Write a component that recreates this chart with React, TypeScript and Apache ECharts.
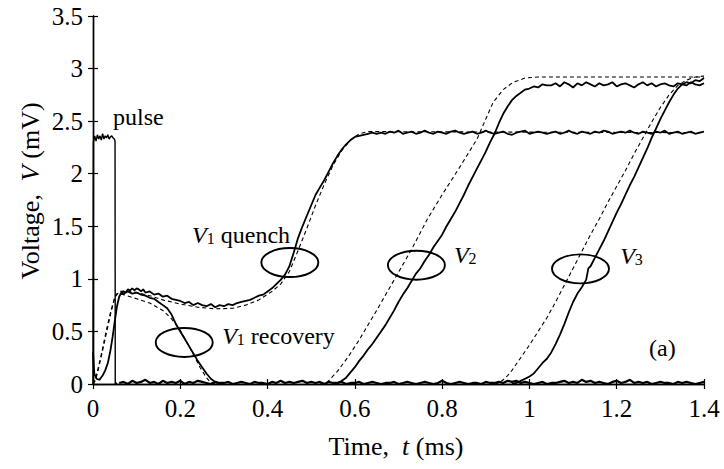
import React, { useEffect, useRef } from 'react';
import * as echarts from 'echarts';

const FONT = 'Liberation Serif';

// Axis ranges
const X_MIN = 0, X_MAX = 1.4, X_STEP = 0.2;
const Y_MIN = 0, Y_MAX = 3.5, Y_STEP = 0.5;

// pulse (time ms, voltage mV)
const pulse: [number, number][] = [
  [0, 0], [0.001, 2.3], [0.004, 2.36], [0.007, 2.31], [0.01, 2.37], [0.013, 2.33], [0.016, 2.36],
  [0.019, 2.32], [0.022, 2.38], [0.025, 2.33], [0.028, 2.36], [0.031, 2.34], [0.034, 2.37],
  [0.037, 2.33], [0.04, 2.35], [0.043, 2.36], [0.046, 2.34], [0.049, 2.33], [0.0505, 2.31],
  [0.051, 0.0], [0.055, 0.01],
];

// zero-level trace after the pulse, sampled every 0.01 ms from 0.06 ms
const baselineStart = 0.06;
const baselineStep = 0.01;
const baselineValues = [
  0.01, 0.02, 0.00, 0.03, 0.01, 0.02, 0.04, 0.01, 0.02, 0.00,
  0.03, 0.01, 0.02, 0.01, 0.03, 0.00, 0.02, 0.01, 0.03, 0.02,
  0.01, 0.00, 0.02, 0.01, 0.01, 0.02, 0.00, 0.01, 0.02, 0.01,
  0.00, 0.02, 0.01, 0.01, 0.00, 0.02, 0.01, 0.03, 0.01, 0.02,
  0.01, 0.02, 0.03, 0.01, 0.02, 0.01, 0.02, 0.00, 0.02, 0.01,
  0.01, 0.02, 0.00, 0.01, 0.01, 0.02, 0.00, 0.01, 0.02, 0.01,
  0.00, 0.01, 0.01, 0.02, 0.00, 0.01, 0.02, 0.01, 0.00, 0.01,
  0.02, 0.01, 0.00, 0.01, 0.03, 0.01, 0.00, 0.01, 0.02, 0.01,
  0.00, 0.01, 0.01, 0.00, 0.02, 0.01, 0.01, 0.02, 0.01, 0.03,
  0.02, 0.03, 0.01, 0.02, 0.01, 0.00, 0.01, 0.02, 0.00, 0.01,
  0.01, 0.02, 0.03, 0.01, 0.02, 0.01, 0.04, 0.02, 0.03, 0.01,
  0.02, 0.01, 0.00, 0.02, 0.03, 0.01, 0.02, 0.04, 0.01, 0.02,
  0.01, 0.02, 0.00, 0.01, 0.02, 0.01, 0.01, 0.00, 0.02, 0.01,
  0.02, 0.01, 0.00, 0.01, 0.02,
];

// V1 quench, measured (rise and dip)
const v1QuenchMeasured: [number, number][] = [
  [0, 0.3], [0.003, 0.1], [0.008, 0.05], [0.015, 0.04], [0.022, 0.08], [0.028, 0.13], [0.034, 0.2],
  [0.04, 0.32], [0.045, 0.45], [0.05, 0.6], [0.055, 0.74], [0.06, 0.83], [0.065, 0.87], [0.07, 0.88],
  [0.075, 0.87], [0.08, 0.9], [0.085, 0.89], [0.09, 0.91], [0.095, 0.89], [0.1, 0.91], [0.105, 0.9],
  [0.11, 0.88], [0.115, 0.9], [0.12, 0.87], [0.13, 0.88], [0.14, 0.85], [0.15, 0.86], [0.16, 0.83],
  [0.17, 0.84], [0.18, 0.81], [0.19, 0.8], [0.2, 0.79], [0.21, 0.77], [0.22, 0.78], [0.23, 0.75],
  [0.24, 0.77], [0.25, 0.75], [0.26, 0.74], [0.27, 0.76], [0.28, 0.73], [0.29, 0.75], [0.3, 0.74],
  [0.31, 0.76], [0.32, 0.75], [0.33, 0.77], [0.34, 0.78], [0.35, 0.79], [0.36, 0.8], [0.37, 0.82],
  [0.38, 0.84], [0.39, 0.85], [0.4, 0.88], [0.41, 0.91], [0.42, 0.95], [0.43, 0.99], [0.44, 1.04],
  [0.45, 1.12], [0.46, 1.25], [0.47, 1.39], [0.48, 1.5], [0.49, 1.6], [0.5, 1.7], [0.51, 1.8],
  [0.52, 1.87], [0.53, 1.94], [0.54, 2.02], [0.55, 2.1], [0.56, 2.17], [0.57, 2.23], [0.58, 2.28],
  [0.59, 2.32], [0.6, 2.35], [0.61, 2.36], [0.62, 2.37], [0.63, 2.38], [0.64, 2.39], [0.65, 2.38],
];
// V1 quench plateau, every 0.01 ms from 0.66 ms
const v1PlateauStart = 0.66;
const v1PlateauValues = [
  2.39, 2.38, 2.40, 2.39, 2.41, 2.38, 2.39, 2.40, 2.38, 2.39,
  2.41, 2.39, 2.38, 2.40, 2.39, 2.38, 2.40, 2.41, 2.39, 2.38,
  2.39, 2.40, 2.38, 2.39, 2.41, 2.39, 2.38, 2.39, 2.40, 2.38,
  2.37, 2.39, 2.40, 2.41, 2.38, 2.39, 2.40, 2.39, 2.38, 2.39,
  2.40, 2.38, 2.39, 2.41, 2.39, 2.38, 2.40, 2.39, 2.38, 2.40,
  2.39, 2.41, 2.40, 2.38, 2.39, 2.40, 2.39, 2.41, 2.39, 2.38,
  2.40, 2.39, 2.38, 2.40, 2.39, 2.41, 2.38, 2.39, 2.40, 2.38,
  2.39, 2.40, 2.38, 2.39, 2.40,
];
// V1 quench, model (dashed)
const v1QuenchModel: [number, number][] = [
  [0, 0], [0.005, 0.03], [0.01, 0.1], [0.02, 0.28], [0.03, 0.47], [0.04, 0.66], [0.05, 0.82],
  [0.06, 0.88], [0.08, 0.885], [0.1, 0.87], [0.13, 0.84], [0.16, 0.8], [0.2, 0.76], [0.24, 0.73],
  [0.28, 0.715], [0.32, 0.72], [0.35, 0.75], [0.38, 0.8], [0.41, 0.88], [0.43, 0.95], [0.45, 1.07],
  [0.47, 1.27], [0.49, 1.48], [0.51, 1.7], [0.53, 1.9], [0.55, 2.08], [0.57, 2.22], [0.59, 2.32],
  [0.61, 2.38], [0.63, 2.4], [0.66, 2.4], [1.4, 2.39],
];
// V1 recovery, measured
const v1RecoveryMeasured: [number, number][] = [
  [0.065, 0.87], [0.07, 0.86], [0.08, 0.88], [0.09, 0.86], [0.1, 0.87], [0.11, 0.85], [0.12, 0.84],
  [0.13, 0.82], [0.14, 0.81], [0.15, 0.78], [0.16, 0.75], [0.17, 0.72], [0.18, 0.66], [0.19, 0.57],
  [0.2, 0.5], [0.21, 0.43], [0.22, 0.36], [0.23, 0.29], [0.24, 0.22], [0.25, 0.16], [0.26, 0.1],
  [0.27, 0.05], [0.28, 0.02], [0.29, 0.0],
];
// V1 recovery, model (dashed)
const v1RecoveryModel: [number, number][] = [
  [0, 0], [0.005, 0.05], [0.01, 0.12], [0.02, 0.3], [0.03, 0.5], [0.04, 0.68], [0.05, 0.83],
  [0.055, 0.86], [0.07, 0.85], [0.1, 0.81], [0.13, 0.77], [0.16, 0.7], [0.18, 0.62], [0.2, 0.51],
  [0.215, 0.4], [0.23, 0.28], [0.245, 0.16], [0.26, 0.06], [0.27, 0.01], [0.28, 0],
];
// V2, measured
const v2Measured: [number, number][] = [
  [0.55, 0.0], [0.56, 0.01], [0.57, 0.03], [0.58, 0.06], [0.59, 0.11], [0.6, 0.16], [0.61, 0.22],
  [0.62, 0.27], [0.63, 0.33], [0.64, 0.38], [0.65, 0.44], [0.66, 0.5], [0.67, 0.56], [0.68, 0.63],
  [0.69, 0.7], [0.7, 0.78], [0.71, 0.85], [0.72, 0.91], [0.73, 0.98], [0.74, 1.05], [0.75, 1.1],
  [0.76, 1.17], [0.77, 1.23], [0.78, 1.3], [0.79, 1.36], [0.8, 1.42], [0.81, 1.5], [0.82, 1.57],
  [0.83, 1.64], [0.84, 1.72], [0.85, 1.8], [0.86, 1.89], [0.87, 1.97], [0.88, 2.05], [0.89, 2.13],
  [0.9, 2.21], [0.91, 2.3], [0.92, 2.38], [0.93, 2.48], [0.94, 2.57], [0.95, 2.64], [0.96, 2.7],
  [0.97, 2.74], [0.98, 2.77], [0.99, 2.8], [1.0, 2.81], [1.01, 2.83], [1.02, 2.82], [1.03, 2.85],
  [1.04, 2.84],
];
// V2 plateau, every 0.01 ms from 1.05 ms
const v2PlateauStart = 1.05;
const v2PlateauValues = [
  2.84, 2.86, 2.83, 2.87, 2.85, 2.82, 2.86, 2.84, 2.87, 2.85,
  2.83, 2.86, 2.84, 2.85, 2.87, 2.83, 2.85, 2.86, 2.84, 2.82,
  2.85, 2.87, 2.84, 2.86, 2.83, 2.85, 2.86, 2.84, 2.83, 2.86,
  2.85, 2.84, 2.87, 2.85, 2.84, 2.86,
];
// V2, model (dashed)
const v2Model: [number, number][] = [
  [0.52, 0], [0.535, 0.01], [0.56, 0.12], [0.585, 0.26], [0.61, 0.42], [0.65, 0.7], [0.69, 0.99],
  [0.73, 1.28], [0.765, 1.56], [0.8, 1.8], [0.84, 2.06], [0.88, 2.33], [0.9, 2.52], [0.917, 2.68],
  [0.94, 2.8], [0.963, 2.87], [0.99, 2.91], [1.02, 2.92], [1.4, 2.92],
];
// V3, measured
const v3Measured: [number, number][] = [
  [0.96, 0.0], [0.97, 0.01], [0.98, 0.03], [0.99, 0.05], [1.0, 0.07], [1.01, 0.1], [1.02, 0.15],
  [1.03, 0.2], [1.04, 0.24], [1.05, 0.3], [1.06, 0.38], [1.07, 0.47], [1.08, 0.57], [1.09, 0.68],
  [1.1, 0.78], [1.11, 0.86], [1.12, 0.92], [1.13, 0.99], [1.135, 1.1], [1.14, 1.12], [1.15, 1.2],
  [1.16, 1.28], [1.17, 1.36], [1.18, 1.45], [1.19, 1.54], [1.2, 1.63], [1.21, 1.71], [1.22, 1.8],
  [1.23, 1.89], [1.24, 1.97], [1.25, 2.06], [1.26, 2.15], [1.27, 2.24], [1.28, 2.34], [1.29, 2.43],
  [1.3, 2.52], [1.31, 2.6], [1.32, 2.68], [1.33, 2.75], [1.34, 2.81], [1.35, 2.85], [1.36, 2.87],
  [1.37, 2.86], [1.38, 2.89], [1.39, 2.88], [1.4, 2.91],
];
// V3, model (dashed)
const v3Model: [number, number][] = [
  [0.92, 0], [0.93, 0.01], [0.94, 0.04], [0.95, 0.08], [0.96, 0.13], [0.97, 0.19], [0.98, 0.25],
  [1.0, 0.37], [1.02, 0.5], [1.04, 0.63], [1.06, 0.78], [1.08, 0.94], [1.1, 1.1], [1.12, 1.26],
  [1.14, 1.42], [1.16, 1.57], [1.18, 1.73], [1.2, 1.88], [1.22, 2.03], [1.24, 2.19], [1.26, 2.34],
  [1.28, 2.49], [1.3, 2.63], [1.32, 2.75], [1.34, 2.84], [1.36, 2.89], [1.38, 2.92], [1.4, 2.93],
];

// annotation anchors (data coordinates)
const ellipseCenters: [number, number][] = [[0.451, 1.155], [0.209, 0.395], [0.741, 1.13], [1.117, 1.095]];
const labelPulse: [number, number] = [0.046, 2.54];
const labelV1Quench: [number, number] = [0.227, 1.42];
const labelV1Recovery: [number, number] = [0.296, 0.457];
const labelV2: [number, number] = [0.827, 1.23];
const labelV3: [number, number] = [1.208, 1.22];
const labelPanel: [number, number] = [1.274, 0.343];

const step = (start: number, values: number[], dt = 0.01): [number, number][] =>
  values.map((v, i) => [Math.round((start + i * dt) * 1000) / 1000, v]);

const solid = (data: [number, number][], width = 1.8) => ({
  type: 'line', data, showSymbol: false, symbol: 'none',
  lineStyle: { color: '#000', width, type: 'solid' }, z: 3,
});
const dashed = (data: [number, number][]) => ({
  type: 'line', data, showSymbol: false, symbol: 'none',
  lineStyle: { color: '#000', width: 1.1, type: [4, 3] }, z: 2,
});

const richBase = {
  v: { fontFamily: FONT, fontSize: 24, fontStyle: 'italic', color: '#000' },
  s: { fontFamily: FONT, fontSize: 16, color: '#000', verticalAlign: 'bottom' },
  n: { fontFamily: FONT, fontSize: 24, color: '#000' },
};

export default function App() {
  const ref = useRef<HTMLDivElement>(null);
  useEffect(() => {
    if (!ref.current) return;
    const chart = echarts.init(ref.current, null, { renderer: 'svg' });
    const axisCommon = {
      axisLine: { show: true, lineStyle: { color: '#000', width: 1.4 } },
      axisTick: { show: true, inside: true, length: 5, lineStyle: { color: '#000', width: 1.2 } },
      splitLine: { show: false },
    };
    const option: any = {
      animation: false,
      backgroundColor: '#fff',
      textStyle: { fontFamily: FONT },
      grid: { left: 93, top: 16, right: 20, bottom: 85, containLabel: false },
      xAxis: [
        {
          ...axisCommon, type: 'value', position: 'bottom', min: X_MIN, max: X_MAX, interval: X_STEP,
          axisLabel: { show: true, fontFamily: FONT, fontSize: 25, color: '#000', margin: 12 },
        },
        {
          ...axisCommon, type: 'value', position: 'top', min: X_MIN, max: X_MAX, interval: X_STEP,
          axisLabel: { show: false },
        },
      ],
      yAxis: [
        {
          ...axisCommon, type: 'value', position: 'left', min: Y_MIN, max: Y_MAX, interval: Y_STEP,
          axisLabel: { show: true, fontFamily: FONT, fontSize: 25, color: '#000', margin: 10 },
        },
        {
          ...axisCommon, type: 'value', position: 'right', min: Y_MIN, max: Y_MAX, interval: Y_STEP,
          axisLabel: { show: false },
        },
      ],
      series: [
        dashed(v1QuenchModel),
        dashed(v1RecoveryModel),
        dashed(v2Model),
        dashed(v3Model),
        solid(pulse, 1.4),
        solid(step(baselineStart, baselineValues, baselineStep), 2.2),
        solid([...v1QuenchMeasured, ...step(v1PlateauStart, v1PlateauValues)]),
        solid(v1RecoveryMeasured),
        solid([...v2Measured, ...step(v2PlateauStart, v2PlateauValues)]),
        solid(v3Measured),
      ],
    };
    chart.setOption(option);

    const px = (p: [number, number]) => chart.convertToPixel({ gridIndex: 0 }, p) as number[];
    const graphic: any[] = [];
    ellipseCenters.forEach((c) => {
      const [cx, cy] = px(c);
      graphic.push({
        type: 'ellipse', shape: { cx, cy, rx: 28.5, ry: 14.5 },
        style: { fill: 'none', stroke: '#000', lineWidth: 1.9 }, z: 10,
      });
    });
    const addText = (p: [number, number], text: string, align = 'left') => {
      const [x, y] = px(p);
      graphic.push({
        type: 'text', x, y, z: 11,
        style: {
          text, align, verticalAlign: 'middle', fill: '#000',
          fontFamily: FONT, fontSize: 24, rich: richBase,
        },
      });
    };
    addText(labelPulse, '{n|pulse}');
    addText(labelV1Quench, '{v|V}{s|1}{n| quench}');
    addText(labelV1Recovery, '{v|V}{s|1}{n| recovery}');
    addText(labelV2, '{v|V}{s|2}');
    addText(labelV3, '{v|V}{s|3}');
    addText(labelPanel, '{n|(a)}');

    const titleRich = {
      n: { fontFamily: FONT, fontSize: 26, color: '#000' },
      v: { fontFamily: FONT, fontSize: 26, fontStyle: 'italic', color: '#000' },
    };
    graphic.push({
      type: 'text', x: 396, y: 446, z: 11,
      style: {
        text: '{n|Time,  }{v|t}{n| (ms)}', align: 'center', verticalAlign: 'middle',
        fontFamily: FONT, fontSize: 26, rich: titleRich,
      },
    });
    graphic.push({
      type: 'text', x: 30, y: 191, rotation: Math.PI / 2, z: 11,
      style: {
        text: '{n|Voltage,  }{v|V}{n| (mV)}', align: 'center', verticalAlign: 'middle',
        fontFamily: FONT, fontSize: 26, rich: titleRich,
      },
    });
    chart.setOption({ graphic });

    return () => chart.dispose();
  }, []);
  return (
    <div
      ref={ref}
      style={{ position: 'fixed', left: 0, top: 0, width: 724, height: 469, background: '#fff' }}
    />
  );
}
